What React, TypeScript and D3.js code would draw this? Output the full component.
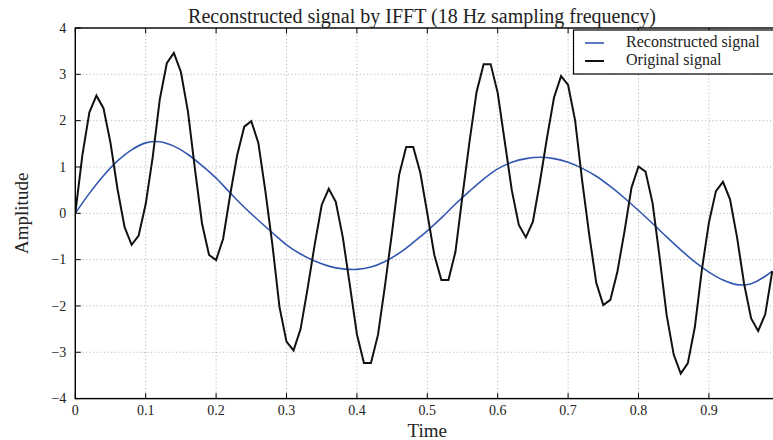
import React from 'react';
import * as d3 from 'd3';

// ---- data ----
const sampleTimes: number[] = d3.range(100).map((i) => i / 100);
const originalSignal: number[] = [
  0, 1.25, 2.18, 2.54, 2.27, 1.52, 0.52, -0.3, -0.68, -0.48,
  0.2, 1.22, 2.46, 3.24, 3.46, 3.05, 2.2, 0.95, -0.22, -0.9,
  -1.01, -0.55, 0.4, 1.26, 1.87, 1.99, 1.52, 0.48, -0.68, -2.02,
  -2.77, -2.96, -2.5, -1.62, -0.68, 0.18, 0.53, 0.25, -0.52, -1.55,
  -2.61, -3.23, -3.23, -2.62, -1.55, -0.4, 0.83, 1.43, 1.43, 0.88,
  0, -0.9, -1.44, -1.44, -0.83, 0.38, 1.55, 2.62, 3.22, 3.22,
  2.6, 1.55, 0.5, -0.25, -0.52, -0.18, 0.68, 1.63, 2.5, 2.96,
  2.77, 2.0, 0.7, -0.46, -1.5, -1.98, -1.87, -1.26, -0.4, 0.55,
  1.01, 0.9, 0.22, -0.95, -2.2, -3.05, -3.46, -3.24, -2.46, -1.22,
  -0.2, 0.48, 0.68, 0.3, -0.52, -1.52, -2.27, -2.54, -2.18, -1.25,
];
const reconTimes: number[] = [
  0, 0.02, 0.04, 0.06, 0.08, 0.1, 0.12, 0.14, 0.16, 0.18,
  0.2, 0.22, 0.24, 0.26, 0.28, 0.3, 0.32, 0.34, 0.36, 0.38,
  0.4, 0.42, 0.44, 0.46, 0.48, 0.5, 0.52, 0.54, 0.56, 0.58,
  0.6, 0.62, 0.64, 0.66, 0.68, 0.7, 0.72, 0.74, 0.76, 0.78,
  0.8, 0.82, 0.84, 0.86, 0.88, 0.9, 0.92, 0.94, 0.96, 0.98, 0.99,
];
const reconSignal: number[] = [
  0, 0.43, 0.81, 1.13, 1.37, 1.52, 1.545, 1.45, 1.27, 1.03,
  0.76, 0.44, 0.13, -0.15, -0.42, -0.68, -0.88, -1.03, -1.14, -1.2,
  -1.21, -1.16, -1.04, -0.86, -0.63, -0.38, -0.1, 0.2, 0.48, 0.74,
  0.96, 1.1, 1.18, 1.21, 1.18, 1.1, 0.97, 0.8, 0.58, 0.33,
  0.06, -0.22, -0.51, -0.79, -1.05, -1.27, -1.44, -1.54, -1.52, -1.36, -1.25,
];
const xTicks: number[] = [0, 0.1, 0.2, 0.3, 0.4, 0.5, 0.6, 0.7, 0.8, 0.9];
const yTicks: number[] = [-4, -3, -2, -1, 0, 1, 2, 3, 4];
const titleText = 'Reconstructed signal by IFFT (18 Hz sampling frequency)';
const xLabel = 'Time';
const yLabel = 'Amplitude';
const legendLabels = ['Reconstructed signal', 'Original signal'];

const BLUE = '#3257b0';
const BLACK = '#111111';
const FONT = "'Liberation Serif', 'DejaVu Serif', serif";

export default function App() {
  const W = 773;
  const H = 440;
  const left = 75.3;
  const right = 779.3;
  const top = 28;
  const bottom = 398.6;

  const x = d3.scaleLinear().domain([0, 1]).range([left, right]);
  const y = d3.scaleLinear().domain([-4, 4]).range([bottom, top]);
  const line = d3
    .line<[number, number]>()
    .x((d) => x(d[0]))
    .y((d) => y(d[1]));
  const smooth = d3
    .line<[number, number]>()
    .x((d) => x(d[0]))
    .y((d) => y(d[1]))
    .curve(d3.curveCatmullRom.alpha(0.5));

  const origPts: [number, number][] = sampleTimes.map((t, i) => [t, originalSignal[i]]);
  const reconPts: [number, number][] = reconTimes.map((t, i) => [t, reconSignal[i]]);

  const fx = d3.format('');
  const fy = d3.format('d');
  const tickLen = 5.5;

  return (
    <svg
      width={W}
      height={H}
      style={{ position: 'absolute', left: 0, top: 0, background: '#fff' }}
      fontFamily={FONT}
    >
      <rect x={0} y={0} width={W} height={H} fill="#fff" />
      <defs>
        <clipPath id="plotclip">
          <rect x={left} y={top} width={right - left} height={bottom - top} />
        </clipPath>
      </defs>

      {/* grid */}
      <g stroke="#9a9a9a" strokeWidth={0.8} strokeDasharray="1,2.6">
        {xTicks.map((t) => (
          <line key={'gx' + t} x1={x(t)} x2={x(t)} y1={top} y2={bottom} />
        ))}
        {yTicks.map((t) => (
          <line key={'gy' + t} x1={left} x2={right} y1={y(t)} y2={y(t)} />
        ))}
      </g>

      {/* series */}
      <g clipPath="url(#plotclip)" fill="none">
        <path d={smooth(reconPts) || ''} stroke={BLUE} strokeWidth={1.6} />
        <path d={line(origPts) || ''} stroke={BLACK} strokeWidth={2} strokeLinejoin="miter" />
      </g>

      {/* ticks */}
      <g stroke="#000" strokeWidth={1}>
        {xTicks.map((t) => (
          <g key={'tx' + t}>
            <line x1={x(t)} x2={x(t)} y1={bottom} y2={bottom - tickLen} />
            <line x1={x(t)} x2={x(t)} y1={top} y2={top + tickLen} />
          </g>
        ))}
        {yTicks.map((t) => (
          <g key={'ty' + t}>
            <line x1={left} x2={left + tickLen} y1={y(t)} y2={y(t)} />
            <line x1={right} x2={right - tickLen} y1={y(t)} y2={y(t)} />
          </g>
        ))}
      </g>

      {/* spines */}
      <rect
        x={left}
        y={top}
        width={right - left}
        height={bottom - top}
        fill="none"
        stroke="#000"
        strokeWidth={1.4}
      />

      {/* tick labels */}
      <g fontSize={14} fill="#222">
        {xTicks.map((t) => (
          <text key={'lx' + t} x={x(t)} y={bottom + 16} textAnchor="middle">
            {fx(t)}
          </text>
        ))}
        {yTicks.map((t) => (
          <text key={'ly' + t} x={left - 9} y={y(t)} dy="0.33em" textAnchor="end">
            {fy(t)}
          </text>
        ))}
      </g>

      {/* title and labels */}
      <text x={422} y={23} textAnchor="middle" fontSize={20} fill="#222">
        {titleText}
      </text>
      <text x={(left + right) / 2} y={437} textAnchor="middle" fontSize={19} fill="#222">
        {xLabel}
      </text>
      <text
        transform={`translate(28,${(top + bottom) / 2}) rotate(-90)`}
        textAnchor="middle"
        fontSize={19}
        fill="#222"
      >
        {yLabel}
      </text>

      {/* legend */}
      <g>
        <rect x={573.5} y={30} width={204} height={44} fill="#fff" stroke="#000" strokeWidth={1.2} />
        <line x1={585} x2={604} y1={43} y2={43} stroke={BLUE} strokeWidth={1.6} />
        <line x1={585} x2={604} y1={61} y2={61} stroke={BLACK} strokeWidth={2} />
        <text x={626} y={46.5} fontSize={16} fill="#222">
          {legendLabels[0]}
        </text>
        <text x={626} y={65} fontSize={16} fill="#222">
          {legendLabels[1]}
        </text>
      </g>
    </svg>
  );
}
